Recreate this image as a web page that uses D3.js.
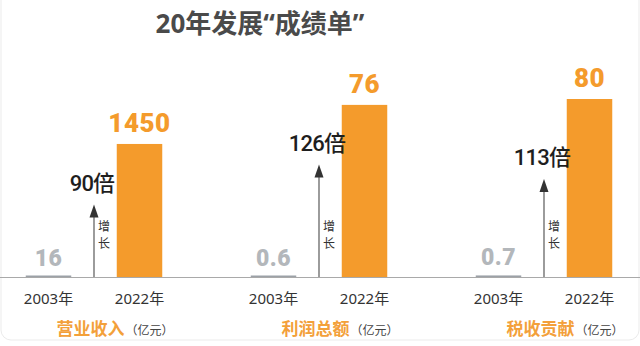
<!DOCTYPE html>
<html>
<head>
<meta charset="utf-8">
<script src="https://cdn.jsdelivr.net/npm/d3@7/dist/d3.min.js"></script>
<style>
  html, body { margin: 0; padding: 0; background: #fff; }
  svg { display: block; }
</style>
</head>
<body>
<svg id="chart" width="640" height="346"></svg>
<script>
// Three indicators, each compared between 2003 and 2022
const title = "20年发展“成绩单”";
const panels = ["营业收入", "利润总额", "税收贡献"];
const years = ["2003年", "2022年"];
const values2003 = [16, 0.6, 0.7];
const values2022 = [1450, 76, 80];
const growth = [90, 126, 113];
const growthSuffix = "倍";
const growthWord = ["增", "长"];
const unit = "（亿元）";
// upper end of each panel's own value axis
const axisMax = [1940, 78.6, 80];

const W = 640, H = 346;
const baseY = 277, topY = 99;
const orange = "#F49B2C";
const grey = "#9ca1a7";
const cjk = "'Noto Sans CJK SC', sans-serif";
const latinCjk = "'Noto Sans', 'Noto Sans CJK SC', sans-serif";
const numFont = "Roboto, 'Noto Sans CJK SC', sans-serif";

const svg = d3.select("#chart");

// light card outline
svg.append("rect")
  .attr("x", 1).attr("y", -12).attr("width", 638).attr("height", 352)
  .attr("rx", 10).attr("fill", "none").attr("stroke", "#ebebeb");

svg.append("text")
  .attr("x", 260).attr("y", 33)
  .attr("text-anchor", "middle")
  .attr("font-family", latinCjk)
  .attr("font-weight", 700)
  .attr("font-size", 26)
  .attr("fill", "#4a4a4a")
  .text(title);

const outer = d3.scaleBand().domain(panels).range([3, 678]);
const inner = d3.scaleBand().domain(years).range([0, 182])
  .paddingInner(0.5).paddingOuter(0.25);

// arrow length follows the growth multiple
const arrowLen = d3.scaleLinear().domain([90, 126]).range([72.5, 112.4]);

// shared baseline
svg.append("line")
  .attr("x1", 0).attr("x2", W)
  .attr("y1", baseY + 0.5).attr("y2", baseY + 0.5)
  .attr("stroke", "#a9a9a9").attr("stroke-width", 1);

panels.forEach((name, i) => {
  const g = svg.append("g").attr("transform", `translate(${outer(name)},0)`);
  const y = d3.scaleLinear().domain([0, axisMax[i]]).range([baseY, topY]);
  const vals = [values2003[i], values2022[i]];
  const colors = [grey, orange];
  const labelColors = ["#b3b7bb", orange];

  vals.forEach((v, j) => {
    const x = inner(years[j]);
    const bw = inner.bandwidth();
    const h = Math.max(baseY - y(v), 1.5);
    g.append("rect")
      .attr("x", x).attr("y", baseY - h)
      .attr("width", bw).attr("height", h)
      .attr("fill", colors[j]);
    g.append("text")
      .attr("x", x + bw / 2)
      .attr("y", baseY - h - (j === 0 ? 10 : 12))
      .attr("text-anchor", "middle")
      .attr("font-family", numFont)
      .attr("font-weight", 900)
      .attr("font-size", j === 0 ? 23 : 26)
      .attr("letter-spacing", 0.5)
      .attr("fill", labelColors[j])
      .text(v);
    g.append("text")
      .attr("x", x + bw / 2).attr("y", 304)
      .attr("text-anchor", "middle")
      .attr("font-family", latinCjk)
      .attr("font-size", 15)
      .attr("fill", "#333")
      .text(years[j]);
  });

  // growth arrow between the two bars
  const ax = (inner(years[0]) + inner.bandwidth() + inner(years[1])) / 2;
  const tipY = baseY - arrowLen(growth[i]);
  g.append("line")
    .attr("x1", ax).attr("x2", ax)
    .attr("y1", baseY).attr("y2", tipY + 10)
    .attr("stroke", "#666").attr("stroke-width", 1.3);
  g.append("path")
    .attr("d", `M${ax},${tipY} L${ax - 4.5},${tipY + 13} L${ax + 4.5},${tipY + 13} Z`)
    .attr("fill", "#333");
  g.append("text")
    .attr("x", ax - 2).attr("y", tipY - 14)
    .attr("text-anchor", "middle")
    .attr("font-family", numFont)
    .attr("font-weight", 500)
    .attr("font-size", 22)
    .attr("letter-spacing", -0.8)
    .attr("fill", "#1e1e1e")
    .text(growth[i] + growthSuffix);
  growthWord.forEach((ch, k) => {
    g.append("text")
      .attr("x", ax + 10).attr("y", 231 + k * 17)
      .attr("text-anchor", "middle")
      .attr("font-family", cjk)
      .attr("font-size", 12)
      .attr("fill", "#333")
      .text(ch);
  });

  // indicator name with unit
  const cat = g.append("text")
    .attr("x", inner(years[0]) + inner.bandwidth() / 2 + 8)
    .attr("y", 335)
    .attr("font-family", cjk);
  cat.append("tspan")
    .attr("font-size", 17).attr("font-weight", 700)
    .attr("fill", "#F3A03A")
    .text(name);
  cat.append("tspan")
    .attr("dx", 1)
    .attr("font-size", 12)
    .attr("fill", "#444")
    .text(unit);
});
</script>
</body>
</html>
